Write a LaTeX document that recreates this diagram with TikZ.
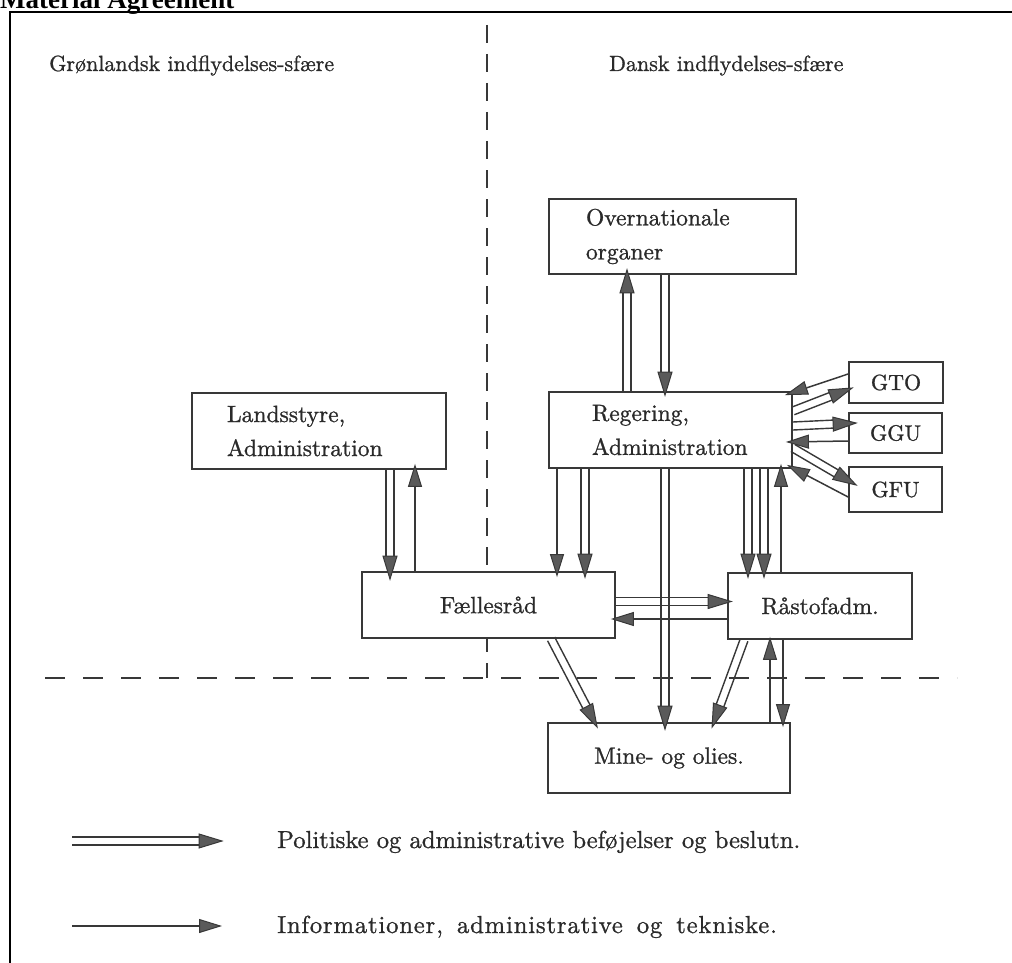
\documentclass[tikz,border=0pt]{standalone}
\usepackage{fontspec}
\newfontfamily\titlefont{Liberation Serif}
\newfontfamily\diafont{lmroman10-regular.otf}[FakeBold=1]
\newfontfamily\diafontwide{lmroman10-regular.otf}[FakeBold=1,LetterSpace=3.5]
\usetikzlibrary{arrows.meta,calc}
\definecolor{ink}{HTML}{2A2A2A}
\definecolor{linec}{HTML}{383838}
\definecolor{headc}{HTML}{5A5A5A}
\newcommand\dgap{4pt}
\newcommand\hlen{23pt}
\newcommand\hwid{7pt}
% double-line arrow: #1 start, #2 tip
\newcommand\dblarr[2]{%
  \coordinate (ds) at (#1);
  \coordinate (dt) at (#2);
  \coordinate (db) at ($(dt)!\hlen!(ds)$);
  \draw[shaft] ($(ds)!\dgap!90:(dt)$) -- ($(db)!\dgap!-90:(ds)$)
               ($(ds)!\dgap!-90:(dt)$) -- ($(db)!\dgap!90:(ds)$);
  \draw[headst] (dt) -- ($(db)!\hwid!90:(dt)$) -- ($(db)!\hwid!-90:(dt)$) -- cycle;
}
\begin{document}
\begin{tikzpicture}[x=1pt,y=-1pt,
  box/.style={draw=linec, line width=1.8pt, fill=white, inner sep=0pt, text=ink,
              font=\diafont\fontsize{23.5}{34}\selectfont},
  smallbox/.style={box, font=\diafont\fontsize{22}{26}\selectfont},
  heading/.style={anchor=base west, inner sep=0pt, text=ink, font=\diafont\fontsize{22}{26}\selectfont},
  legtext/.style={anchor=base west, inner sep=0pt, text=ink, font=\diafont\fontsize{24.6}{30}\selectfont},
  shaft/.style={draw=linec, line width=1.4pt},
  headst/.style={draw=linec, fill=headc, line width=1pt, line join=miter},
  sgl/.style={draw=linec, line width=1.5pt,
              -{Triangle[length=23pt, width=14pt, fill=headc, line width=1pt]}},
  divider/.style={draw=linec, line width=1.6pt},
]
\useasboundingbox (0,0) rectangle (1012,963);

% title (cut by page top) and frame
\node[anchor=base west, inner sep=0pt, text=black,
      font=\titlefont\bfseries\fontsize{27}{30}\selectfont] (title) at (0,9) {Material Agreement};
\draw[line width=2pt, black] (10,963) -- (10,12) -- (1012,12);

% headings
\node[heading] (hgr) at (49,71) {Grønlandsk indflydelses-sfære};
\node[heading] (hdk) at (609,71) {Dansk indflydelses-sfære};

% dividers
\draw[divider, dash pattern=on 18pt off 11pt] (487,25) -- (487,678);
\draw[divider, dash pattern=on 20pt off 18pt] (45,678) -- (957,678);

% boxes
\node[box, align=left, text width=173pt, inner xsep=37pt, minimum height=75pt]
  (over) at (672.5,236.5) {Overnationale\\organer};
\node[box, align=left, text width=184pt, inner xsep=35pt, minimum height=76pt]
  (land) at (319,431) {Landsstyre,\\Administration};
\node[box, align=left, text width=157pt, inner xsep=43pt, minimum height=76pt]
  (reg) at (670.5,430) {Regering,\\Administration};
\node[box, minimum width=253pt, minimum height=66pt] (fael) at (488.5,605) {Fællesråd};
\node[box, minimum width=184pt, minimum height=66pt] (rast) at (820,606) {Råstofadm.};
\node[box, minimum width=242pt, minimum height=70pt] (mine) at (669,758) {Mine- og olies.};
\node[smallbox, minimum width=94pt, minimum height=41pt] (gto) at (896,382.5) {GTO};
\node[smallbox, minimum width=93pt, minimum height=40pt] (ggu) at (895.5,433) {GGU};
\node[smallbox, minimum width=93pt, minimum height=45pt] (gfu) at (895.5,489.5) {GFU};

% Regering <-> Overnationale
\dblarr{627,0 |- reg.north}{$(627,0 |- over.south)+(0,-5)$}
\dblarr{665,0 |- over.south}{$(665,0 |- reg.north)+(0,4)$}

% Landsstyre <-> Faellesraad
\dblarr{390,0 |- land.south}{$(390,0 |- fael.north)+(0,8)$}
\draw[sgl] (415,0 |- fael.north) -- ($(415,0 |- land.south)+(0,-6)$);

% Regering -> Faellesraad
\draw[sgl] (557,0 |- reg.south) -- ($(557,0 |- fael.north)+(0,6)$);
\dblarr{585,0 |- reg.south}{$(585,0 |- fael.north)+(0,6)$}

% Regering -> Mine
\dblarr{665,0 |- reg.south}{$(665,0 |- mine.north)+(0,7)$}

% Regering <-> Raastofadm
\dblarr{748,0 |- reg.south}{$(748,0 |- rast.north)+(0,5)$}
\dblarr{764,0 |- reg.south}{$(764,0 |- rast.north)+(0,5)$}
\draw[sgl] (781,0 |- rast.north) -- ($(781,0 |- reg.south)+(0,-5)$);

% Faellesraad <-> Raastofadm
\dblarr{fael.east |- 0,601.5}{$(rast.west |- 0,601.5)+(4,0)$}
\draw[sgl] (rast.west |- 0,619) -- ($(fael.east |- 0,619)+(-5,0)$);

% to Mine
\dblarr{$(fael.south west)+(190,0)$}{$(mine.north west)+(50,5)$}
\dblarr{$(rast.south west)+(17,0)$}{$(mine.north west)+(165,5)$}
\draw[sgl] (770,0 |- mine.north) -- ($(770,0 |- rast.south)+(0,-3)$);
\draw[sgl] (783,0 |- rast.south) -- ($(783,0 |- mine.north)+(0,5)$);

% Regering <-> GTO, GGU, GFU
\draw[sgl] (gto.west |- 0,374) -- ($(reg.north east)+(-8,4)$);
\dblarr{reg.east |- 0,411}{$(gto.west |- 0,388)+(4,0)$}
\dblarr{reg.east |- 0,426}{$(ggu.west |- 0,423)+(8,0)$}
\draw[sgl] (ggu.west |- 0,441) -- ($(reg.east |- 0,442)+(-7,0)$);
\dblarr{reg.east |- 0,448}{$(gfu.west |- 0,485)+(8,0)$}
\draw[sgl] (gfu.west |- 0,497) -- ($(reg.south east)+(-6,-4)$);

% legend
\node[legtext] (leg1) at (277,848) {Politiske og administrative beføjelser og beslutn.};
\node[legtext, font=\diafontwide\fontsize{24.6}{30}\selectfont]
  (leg2) at (277,933) {\spaceskip=14pt plus 2pt minus 2pt Informationer, administrative og tekniske.};
\coordinate (l1s) at (72,841);
\coordinate (l1e) at (222,841);
\coordinate (l2s) at (72,926);
\coordinate (l2e) at (222,926);
\dblarr{l1s}{l1e}
\draw[sgl] (l2s) -- (l2e);
\end{tikzpicture}
\end{document}
